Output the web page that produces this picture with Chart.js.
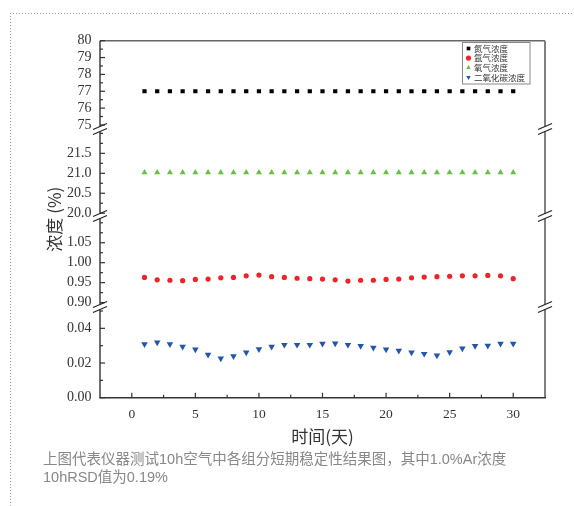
<!DOCTYPE html>
<html>
<head>
<meta charset="utf-8">
<script src="https://cdn.jsdelivr.net/npm/chart.js@4.4.1/dist/chart.umd.min.js"></script>
<style>
  html, body { margin: 0; padding: 0; background: #fff; }
  body { width: 574px; height: 506px; position: relative; overflow: hidden; }
  .dots-top { position: absolute; left: 10px; top: 13px; width: 564px; height: 1px;
    background: repeating-linear-gradient(to right, #9a9a9a 0 1px, transparent 1px 3px); }
  .dots-left { position: absolute; left: 10px; top: 13px; width: 1px; height: 493px;
    background: repeating-linear-gradient(to bottom, #9a9a9a 0 1px, transparent 1px 3px); }
  #wrap { position: absolute; left: 0; top: 0; width: 574px; height: 506px; }
  .caption { position: absolute; left: 43px; top: 450px; color: #888;
    font: 14.5px/18px "Liberation Sans", "Noto Sans CJK SC", sans-serif; }
</style>
</head>
<body>
<div class="dots-top"></div>
<div class="dots-left"></div>
<div id="wrap"><canvas id="c"></canvas></div>
<div class="caption">上图代表仪器测试10h空气中各组分短期稳定性结果图，其中1.0%Ar浓度<br>10hRSD值为0.19%</div>
<script>
// data
const days = [1, 2, 3, 4, 5, 6, 7, 8, 9, 10, 11, 12, 13, 14, 15, 16, 17, 18, 19, 20, 21, 22, 23, 24, 25, 26, 27, 28, 29, 30];
const nitrogen = [77, 77, 77, 77, 77, 77, 77, 77, 77, 77, 77, 77, 77, 77, 77, 77, 77, 77, 77, 77, 77, 77, 77, 77, 77, 77, 77, 77, 77, 77];
const oxygen = [21.02, 21.02, 21.02, 21.02, 21.02, 21.02, 21.02, 21.02, 21.02, 21.02, 21.02, 21.02, 21.02, 21.02, 21.02, 21.02, 21.02, 21.02, 21.02, 21.02, 21.02, 21.02, 21.02, 21.02, 21.02, 21.02, 21.02, 21.02, 21.02, 21.02];
const argon = [0.963, 0.957, 0.956, 0.955, 0.958, 0.959, 0.962, 0.963, 0.967, 0.969, 0.965, 0.963, 0.961, 0.960, 0.959, 0.957, 0.954, 0.956, 0.956, 0.958, 0.959, 0.962, 0.964, 0.965, 0.966, 0.967, 0.967, 0.968, 0.967, 0.960];
const co2 = [0.0309, 0.0319, 0.0309, 0.0294, 0.0278, 0.0248, 0.0226, 0.0240, 0.0261, 0.0280, 0.0294, 0.0305, 0.0305, 0.0305, 0.0311, 0.0313, 0.0305, 0.0298, 0.0288, 0.0278, 0.0271, 0.0261, 0.0253, 0.0244, 0.0263, 0.0284, 0.0298, 0.0300, 0.0311, 0.0311];
const seriesNames = ['氮气浓度', '氩气浓度', '氧气浓度', '二氧化碳浓度'];

// tick labels
const xTicks = [0, 5, 10, 15, 20, 25, 30];
const nTicks = [75, 76, 77, 78, 79, 80];
const oTicks = [20.0, 20.5, 21.0, 21.5];
const arTicks = [0.90, 0.95, 1.00, 1.05];
const co2Ticks = [0.00, 0.02, 0.04];

const hasTick = (list, v) => list.some(t => Math.abs(t - v) < 1e-6);
const pts = vals => days.map((d, i) => ({ x: d, y: vals[i] }));
const yTickFont = { family: '"Liberation Serif", "Times New Roman", serif', size: 14 };
const xTickFont = { family: '"Liberation Serif", "Times New Roman", serif', size: 13.5 };
const cjkFont = { family: '"Noto Sans CJK SC", sans-serif', size: 17 };

function panel(min, max, step, labels, digits, weight) {
    return {
        type: 'linear',
        position: 'left',
        stack: 'conc',
        stackWeight: weight,
        min: min,
        max: max,
        grid: { display: false, drawTicks: false },
        border: { display: false },
        ticks: {
            stepSize: step,
            autoSkip: false,
            includeBounds: false,
            padding: 8.5,
            color: '#333',
            font: yTickFont,
            callback: v => hasTick(labels, v) ? v.toFixed(digits) : ''
        },
        afterFit: s => { s.width = 40; }
    };
}

function seg(ctx, x1, y1, x2, y2) {
    ctx.beginPath();
    ctx.moveTo(x1, y1);
    ctx.lineTo(x2, y2);
    ctx.stroke();
}

// frame, broken axes, inward ticks and legend box
const frame = {
    id: 'frame',
    afterDraw(chart) {
        const { ctx, chartArea: a, scales } = chart;
        const panels = ['yN', 'yO', 'yAr', 'yC'].map(id => scales[id]);
        const g = 2.5;
        ctx.save();
        ctx.lineCap = 'butt';

        ctx.strokeStyle = '#666';
        ctx.lineWidth = 1.5;
        seg(ctx, a.left, a.top, a.right, a.top);

        panels.forEach((s, i) => {
            const t = i === 0 ? a.top : s.top + g;
            const b = i === panels.length - 1 ? a.bottom : s.bottom - g;
            ctx.strokeStyle = '#808080';
            ctx.lineWidth = 2;
            seg(ctx, a.right, t, a.right, b);
            ctx.strokeStyle = '#333';
            ctx.lineWidth = 1.4;
            seg(ctx, a.left, t, a.left, b);

            s.ticks.forEach(tk => {
                const y = s.getPixelForValue(tk.value);
                if (y < s.top - 0.5 || y > s.bottom + 0.5) return;
                const len = tk.label !== '' ? 5 : 3;
                ctx.lineWidth = 1.2;
                seg(ctx, a.left, y, a.left + len, y);
            });
        });

        // break marks
        ctx.strokeStyle = '#222';
        ctx.lineWidth = 1.2;
        panels.slice(1).forEach(s => {
            [a.left, a.right].forEach(x => {
                [-g, g].forEach(d => {
                    seg(ctx, x - 7, s.top + d + 3, x + 7, s.top + d - 3);
                });
            });
        });

        // x axis
        const xs = scales.x;
        ctx.strokeStyle = '#333';
        ctx.lineWidth = 1.4;
        seg(ctx, a.left - 0.7, a.bottom, a.right + 1, a.bottom);
        ctx.lineWidth = 1.2;
        xs.ticks.forEach(tk => {
            if (tk.value <= xs.min || tk.value >= xs.max) return;
            const x = xs.getPixelForValue(tk.value);
            const len = tk.label !== '' ? 5 : 3;
            seg(ctx, x, a.bottom, x, a.bottom - len);
        });

        // legend
        ctx.strokeStyle = '#888';
        ctx.lineWidth = 1;
        ctx.fillStyle = '#fff';
        ctx.fillRect(462.5, 42.5, 67.5, 41.5);
        ctx.strokeRect(462.5, 42.5, 67.5, 41.5);
        ctx.font = '8.5px "Noto Sans CJK SC", sans-serif';
        ctx.textBaseline = 'middle';
        chart.data.datasets.forEach((ds, i) => {
            const cy = 48.5 + i * 9.6;
            ctx.fillStyle = ds.pointBackgroundColor;
            Chart.helpers.drawPoint(ctx, {
                pointStyle: ds.pointStyle,
                rotation: ds.pointRotation || 0,
                radius: 2.6,
                borderWidth: 0
            }, 468.5, cy);
            ctx.fillStyle = '#333';
            ctx.fillText(ds.label, 474, cy);
        });
        ctx.restore();
    }
};

new Chart(document.getElementById('c'), {
    type: 'scatter',
    data: {
        datasets: [
            {
                label: seriesNames[0],
                data: pts(nitrogen),
                yAxisID: 'yN',
                pointStyle: 'rect',
                pointRadius: 3,
                pointBorderWidth: 0,
                pointBackgroundColor: '#000',
                pointBorderColor: '#000'
            },
            {
                label: seriesNames[1],
                data: pts(argon),
                yAxisID: 'yAr',
                pointStyle: 'circle',
                pointRadius: 2.6,
                pointBorderWidth: 0,
                pointBackgroundColor: '#ef2328',
                pointBorderColor: '#ef2328'
            },
            {
                label: seriesNames[2],
                data: pts(oxygen),
                yAxisID: 'yO',
                pointStyle: 'triangle',
                pointRadius: 3.5,
                pointBorderWidth: 0,
                pointBackgroundColor: '#68c041',
                pointBorderColor: '#68c041'
            },
            {
                label: seriesNames[3],
                data: pts(co2),
                yAxisID: 'yC',
                pointStyle: 'triangle',
                pointRotation: 180,
                pointRadius: 3.8,
                pointBorderWidth: 0,
                pointBackgroundColor: '#2356a8',
                pointBorderColor: '#2356a8'
            }
        ]
    },
    options: {
        responsive: true,
        maintainAspectRatio: false,
        animation: false,
        events: [],
        layout: { padding: { left: 44, top: 40.7, right: 29, bottom: 58.3 } },
        plugins: {
            legend: { display: false },
            tooltip: { enabled: false }
        },
        scales: {
            x: {
                type: 'linear',
                min: -2.5,
                max: 32.5,
                grid: { display: false, drawTicks: false },
                border: { display: false },
                ticks: {
                    stepSize: 2.5,
                    autoSkip: false,
                    maxRotation: 0,
                    padding: 9,
                    color: '#333',
                    font: xTickFont,
                    callback: v => hasTick(xTicks, v) ? String(v) : ''
                },
                title: {
                    display: true,
                    text: '时间(天)',
                    color: '#333',
                    font: cjkFont,
                    padding: { top: 0, bottom: 1 }
                },
                afterFit: s => { s.height = 50; }
            },
            yTitle: {
                type: 'linear',
                position: 'left',
                weight: 5,
                grid: { display: false, drawTicks: false },
                border: { display: false },
                ticks: { display: false },
                title: {
                    display: true,
                    text: '浓度 (%)',
                    color: '#333',
                    font: cjkFont,
                    padding: { top: 0, bottom: 0 }
                },
                afterFit: s => { s.width = 16; }
            },
            yC: panel(0, 0.0523, 0.01, co2Ticks, 2, 90.7),
            yAr: panel(0.889, 1.117, 0.025, arTicks, 2, 91),
            yO: panel(19.93, 22.11, 0.25, oTicks, 1, 87),
            yN: panel(74.76, 80, 0.5, nTicks, 0, 88.3)
        }
    },
    plugins: [frame]
});
</script>
</body>
</html>
